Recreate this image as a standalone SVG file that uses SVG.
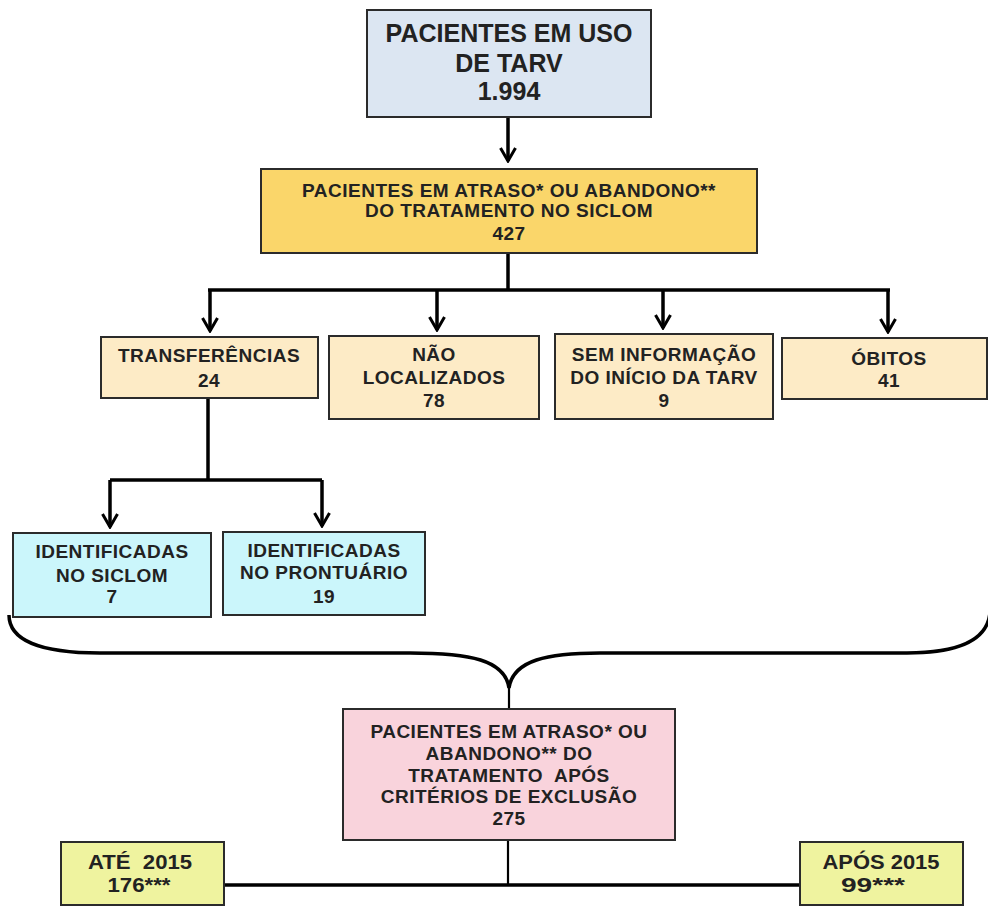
<svg xmlns="http://www.w3.org/2000/svg" width="988" height="907" viewBox="0 0 988 907">
<style>
  .box { stroke: #2b2b2b; stroke-width: 2; }
  .t { font-family: "Liberation Sans", Arial, sans-serif; font-weight: bold; fill: #222; text-anchor: middle; }
  .big { font-size: 25px; }
  .mid { font-size: 19px; letter-spacing: 0.5px; }
  .bot { font-size: 21px; }
  .c { fill: none; stroke: #000; stroke-width: 3.5; }
  .thin { fill: none; stroke: #000; stroke-width: 2.2; }
</style>
<defs>
  <marker id="chev" markerUnits="userSpaceOnUse" viewBox="0 0 16 18" refX="14" refY="9" markerWidth="16" markerHeight="18" orient="auto">
    <path d="M1,1.5 L14,9 L1,16.5" fill="none" stroke="#000" stroke-width="3"/>
  </marker>
</defs>
<rect width="988" height="907" fill="#fff"/>

<g id="connectors">
  <path class="c" d="M508,117 V161" marker-end="url(#chev)"/>
  <path class="c" d="M508,253 V290"/>
  <path class="c" d="M208,290 H890"/>
  <path class="c" d="M210,290 V331" marker-end="url(#chev)"/>
  <path class="c" d="M437,290 V330" marker-end="url(#chev)"/>
  <path class="c" d="M663,290 V328" marker-end="url(#chev)"/>
  <path class="c" d="M888,290 V332" marker-end="url(#chev)"/>
  <path class="c" d="M208,398 V480"/>
  <path class="c" d="M110,480 H322"/>
  <path class="c" d="M110,480 V527" marker-end="url(#chev)"/>
  <path class="c" d="M322,480 V526" marker-end="url(#chev)"/>
  <path class="c" d="M9,615 C9,640 40,653 100,653 L410,653 C470,653 505,660 509,688 C513,660 548,653 600,653 L907,653 C960,653 988,640 990,612"/>
  <path class="thin" d="M509,688 V709"/>
  <path class="thin" d="M508,840 V885"/>
  <path class="c" d="M224,885 H800"/>
</g>

<g id="n-tarv">
  <rect class="box" x="367" y="10" width="284" height="107" fill="#DCE6F2"/>
  <text class="t big" x="509" y="42">PACIENTES EM USO</text>
  <text class="t big" x="509" y="72">DE TARV</text>
  <text class="t big" x="509" y="100">1.994</text>
</g>

<g id="n-atraso">
  <rect class="box" x="261" y="169" width="496" height="84" fill="#FAD66A"/>
  <text class="t mid" x="509" y="197">PACIENTES EM ATRASO* OU ABANDONO**</text>
  <text class="t mid" x="509" y="217">DO TRATAMENTO NO SICLOM</text>
  <text class="t mid" x="509" y="240">427</text>
</g>

<g id="n-transf">
  <rect class="box" x="101" y="337" width="217" height="61" fill="#FDEBC6"/>
  <text class="t mid" x="209" y="362">TRANSFERÊNCIAS</text>
  <text class="t mid" x="209" y="387">24</text>
</g>

<g id="n-naoloc">
  <rect class="box" x="329" y="336" width="210" height="83" fill="#FDEBC6"/>
  <text class="t mid" x="434" y="361">NÃO</text>
  <text class="t mid" x="434" y="384">LOCALIZADOS</text>
  <text class="t mid" x="434" y="407">78</text>
</g>

<g id="n-seminfo">
  <rect class="box" x="555" y="334" width="218" height="85" fill="#FDEBC6"/>
  <text class="t mid" x="664" y="361">SEM INFORMAÇÃO</text>
  <text class="t mid" x="664" y="384">DO INÍCIO DA TARV</text>
  <text class="t mid" x="664" y="407">9</text>
</g>

<g id="n-obitos">
  <rect class="box" x="782" y="338" width="205" height="61" fill="#FDEBC6"/>
  <text class="t mid" x="889" y="365">ÓBITOS</text>
  <text class="t mid" x="889" y="387">41</text>
</g>

<g id="n-siclom">
  <rect class="box" x="13" y="533" width="198" height="84" fill="#CBF6FB"/>
  <text class="t mid" x="112" y="558">IDENTIFICADAS</text>
  <text class="t mid" x="112" y="582">NO SICLOM</text>
  <text class="t mid" x="112" y="603">7</text>
</g>

<g id="n-prontuario">
  <rect class="box" x="223" y="532" width="202" height="83" fill="#CBF6FB"/>
  <text class="t mid" x="324" y="557">IDENTIFICADAS</text>
  <text class="t mid" x="324" y="579">NO PRONTUÁRIO</text>
  <text class="t mid" x="324" y="603">19</text>
</g>

<g id="n-apos-criterios">
  <rect class="box" x="343" y="709" width="332" height="131" fill="#F9D3DC"/>
  <text class="t mid" x="509" y="738">PACIENTES EM ATRASO* OU</text>
  <text class="t mid" x="509" y="760">ABANDONO** DO</text>
  <text class="t mid" x="509" y="782" xml:space="preserve">TRATAMENTO  APÓS</text>
  <text class="t mid" x="509" y="803">CRITÉRIOS DE EXCLUSÃO</text>
  <text class="t mid" x="509" y="825">275</text>
</g>

<g id="n-ate2015">
  <rect class="box" x="61" y="842" width="163" height="63" fill="#EFF39F"/>
  <text class="t bot" x="140" y="869" textLength="104" lengthAdjust="spacingAndGlyphs" xml:space="preserve">ATÉ  2015</text>
  <text class="t bot" x="139" y="892" textLength="63" lengthAdjust="spacingAndGlyphs">176***</text>
</g>

<g id="n-apos2015">
  <rect class="box" x="800" y="842" width="163" height="63" fill="#EFF39F"/>
  <text class="t bot" x="881" y="869" textLength="117" lengthAdjust="spacingAndGlyphs">APÓS 2015</text>
  <text class="t bot" x="873" y="892" textLength="64" lengthAdjust="spacingAndGlyphs">99***</text>
</g>
</svg>
